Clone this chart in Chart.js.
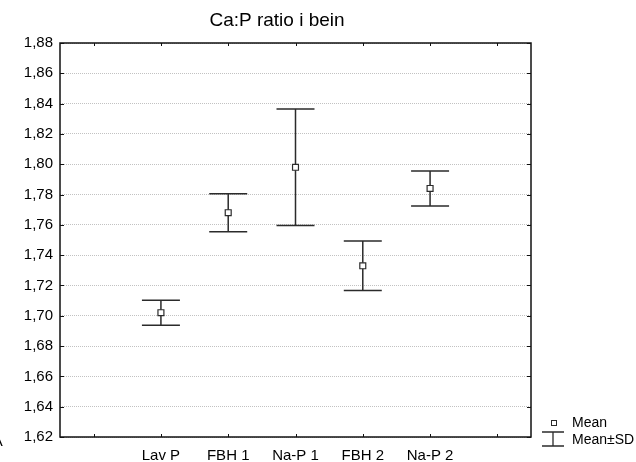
<!DOCTYPE html>
<html>
<head>
<meta charset="utf-8">
<script src="https://cdn.jsdelivr.net/npm/chart.js@4.4.1/dist/chart.umd.min.js"></script>
<style>
    html, body { margin: 0; padding: 0; background: #fff; }
    #wrap { width: 636px; height: 462px; }
</style>
</head>
<body>
<div id="wrap"><canvas id="chart" width="636" height="462"></canvas></div>
<script>
// Group names (empty slots at both ends leave room like the original)
const groups = ['Lav P', 'FBH 1', 'Na-P 1', 'FBH 2', 'Na-P 2'];
// Mean and standard deviation of the Ca:P ratio per group
const meanValues = [1.702, 1.768, 1.798, 1.733, 1.784];
const sdValues = [0.0082, 0.0126, 0.0385, 0.0164, 0.0115];
// Y axis range and step
const yMin = 1.62;
const yMax = 1.88;
const yStep = 0.02;

const categories = [''].concat(groups, ['']);
const meanPoints = [null].concat(meanValues, [null]);

const FONT = '"Liberation Sans", Arial, sans-serif';
const LINE = '#2b2b2b';

// Draws the mean ± SD whiskers under the mean markers
const errorBars = {
    id: 'errorBars',
    beforeDatasetsDraw(chart) {
        const ctx = chart.ctx;
        const x = chart.scales.x;
        const y = chart.scales.y;
        ctx.save();
        ctx.strokeStyle = LINE;
        ctx.lineWidth = 1.5;
        meanValues.forEach((m, i) => {
            const px = x.getPixelForValue(i + 1);
            const top = y.getPixelForValue(m + sdValues[i]);
            const bot = y.getPixelForValue(m - sdValues[i]);
            ctx.beginPath();
            ctx.moveTo(px, top);
            ctx.lineTo(px, bot);
            ctx.moveTo(px - 19, top);
            ctx.lineTo(px + 19, top);
            ctx.moveTo(px - 19, bot);
            ctx.lineTo(px + 19, bot);
            ctx.stroke();
        });
        ctx.restore();
    }
};

// Frame, inward ticks, title and legend
const decorations = {
    id: 'decorations',
    afterDraw(chart) {
        const ctx = chart.ctx;
        const a = chart.chartArea;
        const x = chart.scales.x;
        const y = chart.scales.y;
        ctx.save();
        ctx.strokeStyle = '#111';
        ctx.lineWidth = 1.5;
        ctx.strokeRect(a.left, a.top, a.right - a.left, a.bottom - a.top);

        ctx.lineWidth = 1;
        ctx.beginPath();
        y.ticks.forEach(t => {
            const py = Math.round(y.getPixelForValue(t.value)) + 0.5;
            ctx.moveTo(a.left, py); ctx.lineTo(a.left + 4, py);
            ctx.moveTo(a.right, py); ctx.lineTo(a.right - 4, py);
        });
        categories.forEach((c, i) => {
            const px = Math.round(x.getPixelForValue(i)) + 0.5;
            ctx.moveTo(px, a.bottom); ctx.lineTo(px, a.bottom - 3);
            ctx.moveTo(px, a.top); ctx.lineTo(px, a.top + 3);
        });
        ctx.stroke();

        // title
        ctx.fillStyle = '#000';
        ctx.font = '19px ' + FONT;
        ctx.textAlign = 'center';
        ctx.textBaseline = 'alphabetic';
        ctx.fillText('Ca:P ratio i bein', 277, 26);

        // clipped letter at the left edge
        ctx.font = '15px ' + FONT;
        ctx.textAlign = 'left';
        ctx.fillText('A', -7.3, 446);

        // legend
        ctx.strokeStyle = LINE;
        ctx.fillStyle = '#fff';
        ctx.lineWidth = 1;
        ctx.fillRect(551.5, 420.5, 5, 5);
        ctx.strokeRect(551.5, 420.5, 5, 5);
        ctx.lineWidth = 1.3;
        ctx.beginPath();
        ctx.moveTo(542, 432); ctx.lineTo(564, 432);
        ctx.moveTo(553, 432); ctx.lineTo(553, 446);
        ctx.moveTo(542, 446); ctx.lineTo(564, 446);
        ctx.stroke();
        ctx.fillStyle = '#000';
        ctx.font = '14px ' + FONT;
        ctx.textBaseline = 'middle';
        ctx.fillText('Mean', 572, 423.5);
        ctx.fillText('Mean\u00B1SD', 572, 440);
        ctx.restore();
    }
};

document.addEventListener('DOMContentLoaded', () => {
    const ctx = document.getElementById('chart').getContext('2d');
    new Chart(ctx, {
        type: 'line',
        data: {
            labels: categories,
            datasets: [{
                label: 'Mean',
                data: meanPoints,
                showLine: false,
                pointStyle: 'rect',
                pointRadius: 4.2,
                pointBackgroundColor: '#fff',
                pointBorderColor: LINE,
                pointBorderWidth: 1.2
            }]
        },
        options: {
            responsive: false,
            animation: false,
            layout: { padding: { top: 43, right: 105, left: 0, bottom: 0 } },
            scales: {
                x: {
                    offset: true,
                    grid: { display: false, drawTicks: false },
                    border: { display: false },
                    ticks: {
                        color: '#000',
                        padding: 10,
                        autoSkip: false,
                        maxRotation: 0,
                        font: { family: FONT, size: 15 }
                    },
                    afterFit(scale) { scale.height = 25; }
                },
                y: {
                    min: yMin,
                    max: yMax,
                    grid: { color: '#c2c2c2', lineWidth: 1, drawTicks: false },
                    border: { display: false, dash: [1, 1] },
                    ticks: {
                        stepSize: yStep,
                        color: '#000',
                        padding: 7,
                        font: { family: FONT, size: 15 },
                        callback: v => v.toFixed(2).replace('.', ',')
                    },
                    afterFit(scale) { scale.width = 60; }
                }
            },
            plugins: {
                legend: { display: false },
                tooltip: { enabled: false }
            }
        },
        plugins: [errorBars, decorations]
    });
});
</script>
</body>
</html>
